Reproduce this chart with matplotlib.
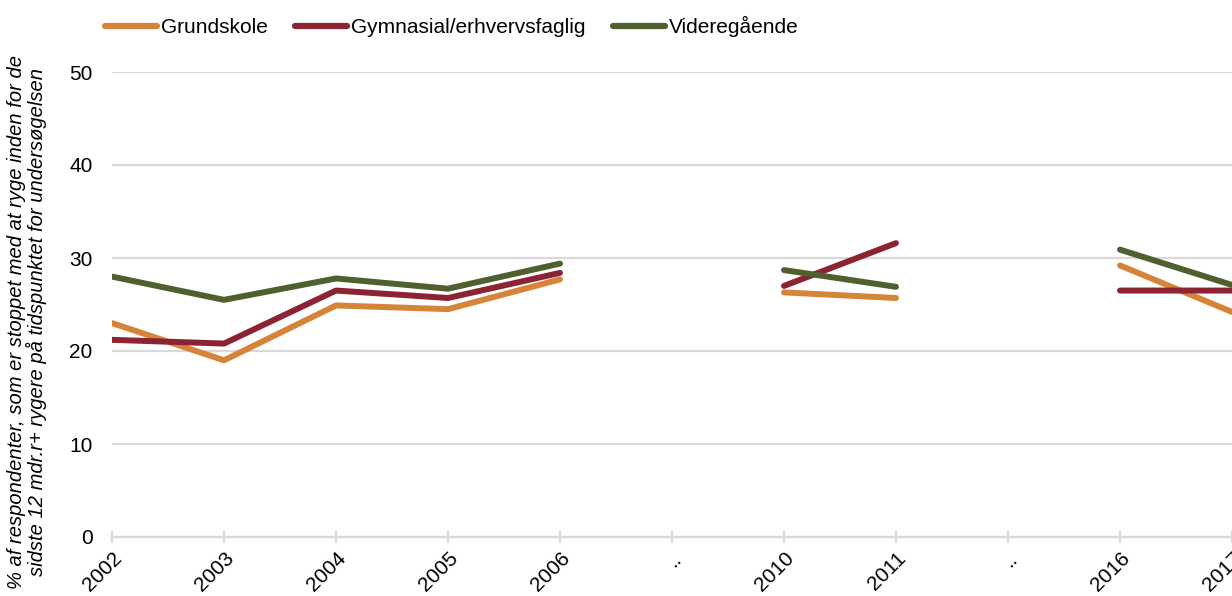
import numpy as np
import matplotlib
matplotlib.use("Agg")
import matplotlib.pyplot as plt

plt.rcParams['font.family'] = ['Liberation Sans', 'DejaVu Sans']

# Survey years; ".." marks years without data
years = ["2002", "2003", "2004", "2005", "2006", "..", "2010", "2011", "..", "2016", "2017"]

grundskole = [23.0, 19.0, 24.9, 24.5, 27.7, np.nan, 26.3, 25.7, np.nan, 29.2, 24.2]
gymnasial = [21.2, 20.8, 26.5, 25.7, 28.4, np.nan, 27.0, 31.6, np.nan, 26.5, 26.5]
videregaaende = [28.0, 25.5, 27.8, 26.7, 29.4, np.nan, 28.7, 26.9, np.nan, 30.9, 27.1]

series = [
    ("Grundskole", grundskole, "#D6843A"),
    ("Gymnasial/erhvervsfaglig", gymnasial, "#8B2332"),
    ("Videregående", videregaaende, "#4F5F2E"),
]

W, H = 1232, 596
fig = plt.figure(figsize=(W / 100, H / 100), dpi=100)
ax = fig.add_axes([112 / W, (H - 537) / H, (W - 112) / W, (537 - 72) / H])

x = np.arange(len(years))
for label, vals, color in series:
    ax.plot(x, vals, color=color, lw=4.3, solid_capstyle='round', label=label, zorder=3)

ax.set_xlim(0, len(years) - 1)
ax.set_ylim(0, 50)
ax.set_yticks([0, 10, 20, 30, 40, 50])
ax.yaxis.grid(True, color="#d9d9d9", lw=1.6, zorder=0)
ax.set_axisbelow(True)
for s in ["left", "right", "top"]:
    ax.spines[s].set_visible(False)
ax.spines["bottom"].set_color("#d9d9d9")
ax.spines["bottom"].set_linewidth(1.6)
ax.tick_params(axis='y', length=0, labelsize=15, pad=14)
ax.tick_params(axis='x', direction='inout', length=9, width=1.6, color="#d9d9d9",
               labelsize=15, pad=4)
ax.set_xticks(x)
ax.set_xticklabels(years, rotation=45, ha='right', rotation_mode='anchor')

fig.text(27 / W, 0.46,
         "% af respondenter, som er stoppet med at ryge inden for de\n"
         "sidste 12 mdr.r+ rygere på tidspunktet for undersøgelsen",
         rotation=90, ha='center', va='center', fontsize=14.5, style='italic',
         linespacing=1.0)

leg = fig.legend(loc='upper left', bbox_to_anchor=(86 / W, 1.005), ncol=3, frameon=False,
                 fontsize=15, handlelength=2.5, handletextpad=0.2, columnspacing=1.3)
for line in leg.get_lines():
    line.set_linewidth(4.5)

fig.savefig("out.png", dpi=100)
